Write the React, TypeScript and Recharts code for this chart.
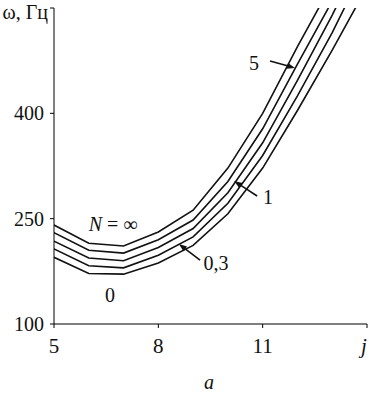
import React from "react";
import { LineChart, Line, XAxis, YAxis, ReferenceLine, ReferenceDot } from "recharts";

const xValues = [5, 6, 7, 8, 9, 10, 11, 12, 13, 14];
const nInf = [241, 215, 211, 231, 262, 322, 400, 495, 585, 690];
const n5 = [230, 205, 201, 220, 248, 303, 378, 470, 560, 665];
const n1 = [218, 194, 190, 209, 236, 287, 358, 447, 540, 640];
const n03 = [207, 183, 180, 198, 224, 272, 340, 425, 515, 615];
const n0 = [195, 172, 171, 187, 212, 257, 322, 404, 490, 580];

const xTicks = [5, 8, 11, 14];
const yTicks = [100, 250, 400, 550];

const seriesKeys = ["inf", "n5", "n1", "n03", "n0"];

const data = xValues.map((x, i) => ({
  x,
  inf: nInf[i],
  n5: n5[i],
  n1: n1[i],
  n03: n03[i],
  n0: n0[i],
}));

// curve labels and arrows (data coords)
const labels = [
  { x: 6.7, y: 242, text: "N = ∞", italicN: true },
  { x: 6.61, y: 141, text: "0" },
  { x: 10.75, y: 472, text: "5" },
  { x: 11.15, y: 281, text: "1" },
  { x: 9.66, y: 187, text: "0,3" },
];
const arrows = [
  { from: [11.21, 474.5], to: [11.93, 464.6] },
  { from: [10.84, 282.3], to: [10.18, 303.6] },
  { from: [9.2, 191.1], to: [8.59, 213.9] },
];

const FONT = "'Liberation Serif', 'Times New Roman', serif";
const INK = "#111";

const YTick = (props: any) => {
  const { x, y, payload } = props;
  if (payload.value === 550) {
    return (
      <text x={x} y={y + 3} dy="0.35em" textAnchor="end" fontFamily={FONT} fontSize={20} fill={INK}>
        ω, Гц
      </text>
    );
  }
  return (
    <text x={x - 4} y={y} dy="0.35em" textAnchor="end" fontFamily={FONT} fontSize={20} fill={INK}>
      {payload.value}
    </text>
  );
};

const XTick = (props: any) => {
  const { x, y, payload } = props;
  if (payload.value === 14) {
    return (
      <text x={x + 3} y={y + 23} textAnchor="middle" fontFamily={FONT} fontStyle="italic" fontSize={21} fill={INK}>
        j
      </text>
    );
  }
  return (
    <text x={x} y={y + 23} textAnchor="middle" fontFamily={FONT} fontSize={21} fill={INK}>
      {payload.value}
    </text>
  );
};

const Arrow = (props: any) => {
  const { x1, y1, x2, y2 } = props;
  const ang = Math.atan2(y2 - y1, x2 - x1);
  const len = 8;
  const w = 3;
  const bx = x2 - len * Math.cos(ang);
  const by = y2 - len * Math.sin(ang);
  const px = -Math.sin(ang) * w;
  const py = Math.cos(ang) * w;
  return (
    <g>
      <line x1={x1} y1={y1} x2={bx} y2={by} stroke={INK} strokeWidth={1.6} />
      <polygon points={`${x2},${y2} ${bx + px},${by + py} ${bx - px},${by - py}`} fill={INK} />
    </g>
  );
};

const makeLabel = (text: string, italicN?: boolean) => (props: any) => {
  const { cx, cy } = props;
  if (italicN) {
    return (
      <text x={cx} y={cy} dy="0.35em" textAnchor="middle" fontFamily={FONT} fontSize={20} fill={INK}>
        <tspan fontStyle="italic">N</tspan>
        {" = ∞"}
      </text>
    );
  }
  return (
    <text x={cx} y={cy} dy="0.35em" textAnchor="middle" fontFamily={FONT} fontSize={20} fill={INK}>
      {text}
    </text>
  );
};

export default function App() {
  return (
    <div style={{ position: "absolute", left: 0, top: 0, width: 369, height: 395, background: "#fff" }}>
      <LineChart width={369} height={395} data={data} margin={{ top: 8, right: 2, left: 0, bottom: 41 }}>
        <XAxis
          dataKey="x"
          type="number"
          domain={[5, 14]}
          ticks={xTicks}
          tick={<XTick />}
          tickSize={4}
          height={30}
          stroke="#000"
          tickLine={{ stroke: "#000" }}
          allowDataOverflow
        />
        <YAxis
          type="number"
          domain={[100, 550]}
          ticks={yTicks}
          tick={<YTick />}
          tickSize={4}
          width={54}
          stroke="#000"
          tickLine={{ stroke: "#000" }}
          allowDataOverflow
        />
        {seriesKeys.map((k) => (
          <Line
            key={k}
            type="linear"
            dataKey={k}
            stroke={INK}
            strokeWidth={1.6}
            dot={false}
            isAnimationActive={false}
          />
        ))}
        {arrows.map((a, i) => (
          <ReferenceLine
            key={"a" + i}
            segment={[
              { x: a.from[0], y: a.from[1] },
              { x: a.to[0], y: a.to[1] },
            ]}
            shape={<Arrow />}
          />
        ))}
        {labels.map((l, i) => (
          <ReferenceDot key={"l" + i} x={l.x} y={l.y} r={0} shape={makeLabel(l.text, l.italicN)} />
        ))}
      </LineChart>
      <div
        style={{
          position: "absolute",
          left: 199,
          top: 370,
          width: 20,
          textAlign: "center",
          fontFamily: FONT,
          fontStyle: "italic",
          fontSize: 20,
          color: INK,
          lineHeight: "24px",
        }}
      >
        a
      </div>
    </div>
  );
}
